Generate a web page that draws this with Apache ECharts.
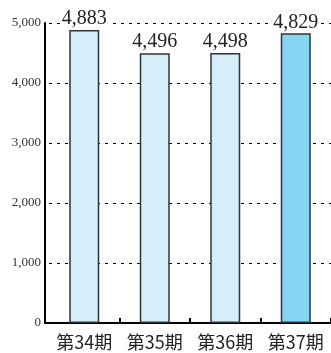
<!DOCTYPE html>
<html><head><meta charset="utf-8">
<script src="https://cdn.jsdelivr.net/npm/echarts@6/dist/echarts.min.js"></script>
<style>html,body{margin:0;padding:0;background:#fff}#c{width:331px;height:353px}</style>
</head><body><div id="c"></div>
<script>
var categories = ['第34期', '第35期', '第36期', '第37期'];
var values = [4883, 4496, 4498, 4829];
var barColors = ['#d6eef9', '#d6eef9', '#d6eef9', '#84d4f4'];
var yTicks = [0, 1000, 2000, 3000, 4000, 5000];

var serif = 'Liberation Serif';
var chart = echarts.init(document.getElementById('c'), null, {renderer: 'canvas'});
chart.setOption({
  animation: false,
  textStyle: {fontFamily: serif},
  grid: {left: 49, right: -6, top: 23, bottom: 30, containLabel: false},
  xAxis: {
    type: 'category',
    data: categories,
    boundaryGap: true,
    axisLine: {show: true, lineStyle: {color: '#000', width: 2}},
    axisTick: {show: true, inside: true, length: 5, lineStyle: {color: '#000', width: 2},
      interval: function (i) { return i !== 0; }},
    axisLabel: {interval: 0, fontFamily: 'Noto Sans CJK JP', fontSize: 18, color: '#222', margin: 10}
  },
  yAxis: {
    type: 'value',
    min: yTicks[0], max: yTicks[yTicks.length - 1], interval: 1000,
    offset: 4,
    axisLine: {show: true, lineStyle: {color: '#000', width: 2}},
    axisTick: {show: false},
    axisLabel: {fontFamily: serif, fontSize: 13, color: '#333', margin: 4,
      formatter: function (v) { return v.toLocaleString('en-US'); }},
    splitLine: {show: true, lineStyle: {color: '#000', width: 1, type: [3, 5]}}
  },
  graphic: [{type: 'line', shape: {x1: 44, y1: 323, x2: 50, y2: 323}, style: {stroke: '#000', lineWidth: 2}}],
  series: [{
    type: 'bar',
    barWidth: 30,
    data: values.map(function (v, i) { return {value: v, itemStyle: {color: barColors[i]}}; }),
    itemStyle: {borderColor: '#333', borderWidth: 1.5},
    label: {show: true, position: 'top', distance: 1, fontFamily: serif, fontSize: 20,
      color: '#222', backgroundColor: '#fff', padding: [0, 1],
      formatter: function (p) { return p.value.toLocaleString('en-US'); }}
  }]
});
</script></body></html>
